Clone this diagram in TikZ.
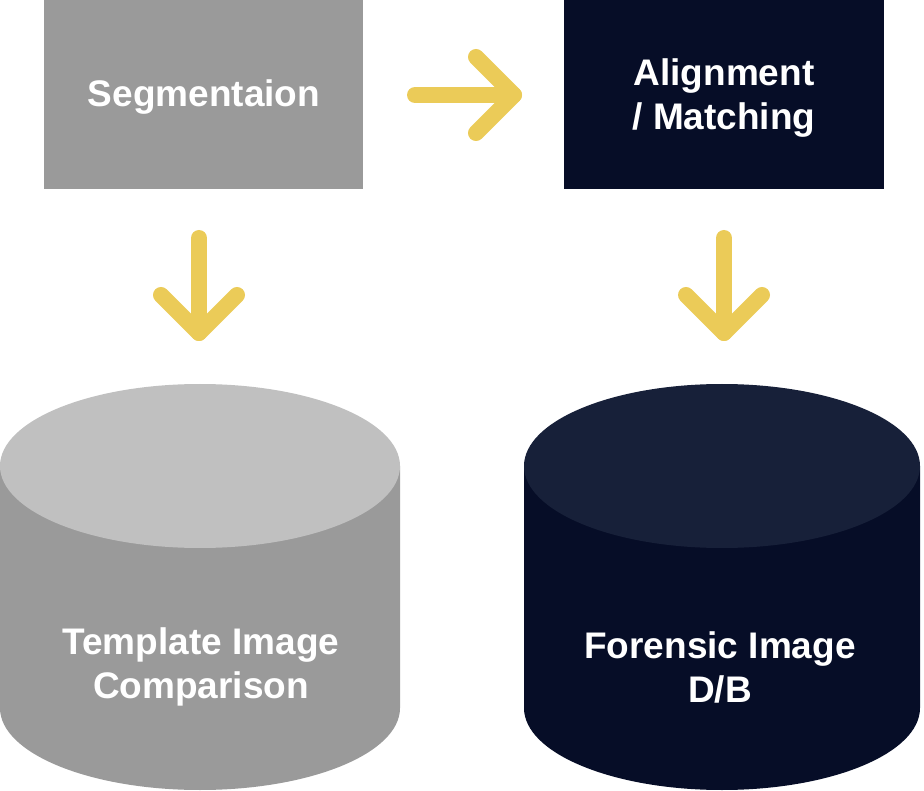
\documentclass[tikz,border=0pt]{standalone}
\usepackage{fontspec}
\setmainfont{Liberation Sans}
\definecolor{boxgray}{HTML}{9A9A9A}
\definecolor{topgray}{HTML}{C0C0C0}
\definecolor{navy}{HTML}{060D27}
\definecolor{topnavy}{HTML}{172039}
\definecolor{arrowy}{HTML}{EBCB58}
\tikzset{
  lbl/.style={text=white,font=\fontsize{37}{44}\selectfont\bfseries,align=center,inner sep=0pt},
  arr/.style={draw=arrowy,line width=16pt,line cap=round,line join=round},
}
\begin{document}
\begin{tikzpicture}[x=1pt,y=-1pt]
\useasboundingbox (0,0) rectangle (924,791);
% boxes
\fill[boxgray] (44,0) rectangle (363,189);
\node[lbl] (seg) at (204,97) {Segmentaion};
\fill[navy] (564,0) rectangle (884,189);
\node[lbl] (align) at (724,98) {Alignment\\/ Matching};
% cylinders
\fill[boxgray] (0,466) -- (0,708) arc[start angle=180,end angle=0,x radius=200,y radius=82] -- (400,466) -- cycle;
\fill[topgray] (200,466) ellipse[x radius=200,y radius=82];
\node[lbl] (tmpl) at (201,667) {Template Image\\Comparison};
\fill[navy] (524,466) -- (524,708) arc[start angle=180,end angle=0,x radius=198,y radius=82] -- (920,466) -- cycle;
\fill[topnavy] (722,466) ellipse[x radius=198,y radius=82];
\node[lbl] (db) at (720,667) {Forensic Image\\D/B};
% arrows
\coordinate (r0) at (415,95);
\coordinate (r1) at (514,95);
\draw[arr] (r0) -- (r1);
\draw[arr] ([shift={(-38,-38)}]r1) -- (r1) -- ([shift={(-38,38)}]r1);
\coordinate (d0) at (199,238);
\coordinate (d1) at (199,333);
\draw[arr] (d0) -- (d1);
\draw[arr] ([shift={(-38,-38)}]d1) -- (d1) -- ([shift={(38,-38)}]d1);
\coordinate (e0) at (724,238);
\coordinate (e1) at (724,333);
\draw[arr] (e0) -- (e1);
\draw[arr] ([shift={(-38,-38)}]e1) -- (e1) -- ([shift={(38,-38)}]e1);
\end{tikzpicture}
\end{document}
